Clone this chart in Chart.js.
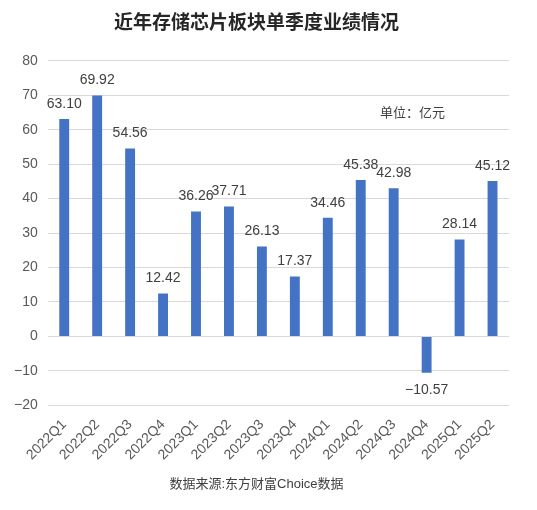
<!DOCTYPE html>
<html lang="zh-CN">
<head>
  <meta charset="UTF-8" />
  <title>近年存储芯片板块单季度业绩情况</title>
  <script src="https://cdn.jsdelivr.net/npm/chart.js"></script>
  <style>
    html, body { margin: 0; padding: 0; background: #ffffff; }
    #wrap { width: 537px; height: 510px; position: relative; }
  </style>
</head>
<body>
  <div id="wrap">
    <canvas id="chart" width="537" height="510"></canvas>
  </div>

  <script>
    const quarters = ['2022Q1', '2022Q2', '2022Q3', '2022Q4', '2023Q1', '2023Q2', '2023Q3',
                      '2023Q4', '2024Q1', '2024Q2', '2024Q3', '2024Q4', '2025Q1', '2025Q2'];
    const profits = [63.10, 69.92, 54.56, 12.42, 36.26, 37.71, 26.13,
                     17.37, 34.46, 45.38, 42.98, -10.57, 28.14, 45.12];
    const yTicks = [-20, -10, 0, 10, 20, 30, 40, 50, 60, 70, 80];

    const FONT = '"Liberation Sans", "Noto Sans CJK SC", sans-serif';

    // 柱子上的数值标签 + 单位说明
    const valueLabels = {
      id: 'valueLabels',
      afterDatasetsDraw(chart) {
        const ctx = chart.ctx;
        const meta = chart.getDatasetMeta(0);
        ctx.save();
        ctx.font = '14px ' + FONT;
        ctx.fillStyle = '#404040';
        ctx.textAlign = 'center';
        meta.data.forEach((bar, i) => {
          const v = profits[i];
          const txt = v.toFixed(2).replace('-', '\u2212');
          if (v >= 0) {
            ctx.textBaseline = 'bottom';
            ctx.fillText(txt, bar.x, bar.y - 8);
          } else {
            ctx.textBaseline = 'top';
            ctx.fillText(txt, bar.x, bar.y + 10);
          }
        });
        const y = chart.scales.y;
        ctx.font = '13px ' + FONT;
        ctx.textAlign = 'left';
        ctx.textBaseline = 'middle';
        ctx.fillText('单位：亿元', 380, y.getPixelForValue(64.8));
        ctx.restore();
      }
    };

    new Chart(document.getElementById('chart'), {
      type: 'bar',
      data: {
        labels: quarters,
        datasets: [{
          data: profits,
          backgroundColor: '#4472C4',
          barPercentage: 0.6,
          categoryPercentage: 0.5
        }]
      },
      options: {
        responsive: false,
        animation: false,
        layout: { padding: { left: 4, right: 28, top: 0, bottom: 6 } },
        plugins: {
          legend: { display: false },
          tooltip: { enabled: false },
          title: {
            display: true,
            text: '近年存储芯片板块单季度业绩情况',
            color: '#262626',
            font: { family: FONT, size: 19, weight: 'bold' },
            padding: { top: 12, bottom: 26 }
          },
          subtitle: {
            display: true,
            position: 'bottom',
            text: '数据来源:东方财富Choice数据',
            color: '#404040',
            font: { family: FONT, size: 13 },
            padding: { top: 10, bottom: 12 }
          }
        },
        scales: {
          x: {
            grid: { display: false },
            border: { display: false },
            ticks: {
              color: '#595959',
              font: { family: FONT, size: 14 },
              maxRotation: 45,
              minRotation: 45,
              autoSkip: false
            }
          },
          y: {
            min: -20,
            max: 80,
            afterBuildTicks(axis) {
              axis.ticks = yTicks.map(v => ({ value: v }));
            },
            grid: { color: '#d9d9d9', lineWidth: 1, drawTicks: false },
            border: { display: false },
            ticks: {
              color: '#595959',
              font: { family: FONT, size: 14 },
              padding: 10,
              callback: v => String(v).replace('-', '\u2212')
            }
          }
        }
      },
      plugins: [valueLabels]
    });
  </script>
</body>
</html>
